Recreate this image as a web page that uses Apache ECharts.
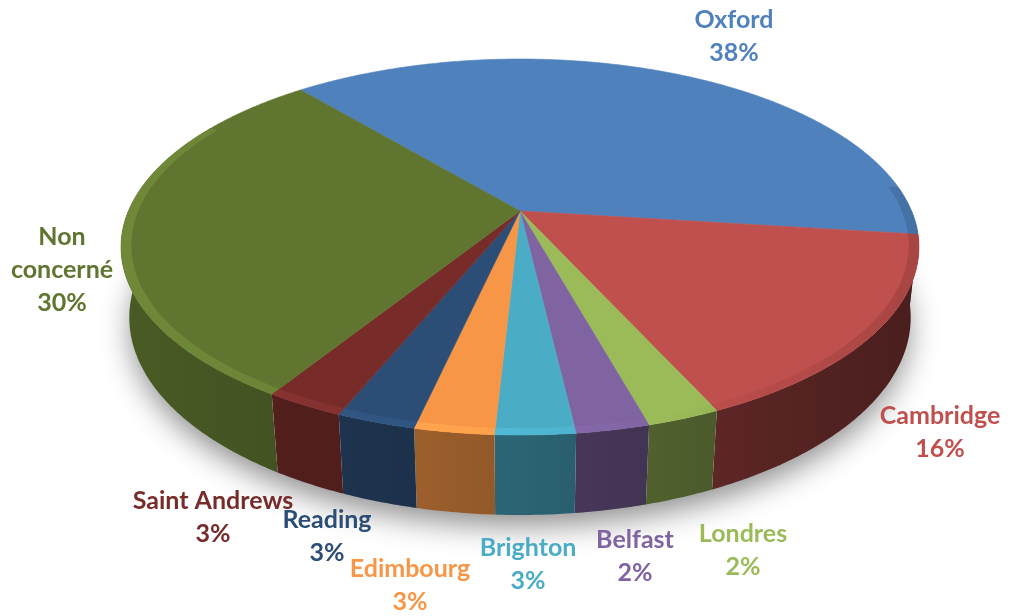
<!DOCTYPE html>
<html>
<head>
<meta charset="utf-8">
<script src="https://cdn.jsdelivr.net/npm/echarts@6/dist/echarts.min.js"></script>
<style>
  html, body { margin: 0; padding: 0; background: #ffffff; }
  #chart { width: 1017px; height: 616px; }
</style>
</head>
<body>
<div id="chart"></div>
<script>
// Répartition des étudiants par destination (en %)
const categories = ['Oxford', 'Cambridge', 'Londres', 'Belfast', 'Brighton', 'Edimbourg', 'Reading', 'Saint Andrews', 'Non concerné'];
const shares = [38.1, 16.2, 2.48, 2.48, 2.69, 2.69, 2.69, 2.69, 29.98];
const labelNames = ['Oxford', 'Cambridge', 'Londres', 'Belfast', 'Brighton', 'Edimbourg', 'Reading', 'Saint Andrews', 'Non\nconcerné'];

// Styling (Office palette) and label layout
const sliceColors = ['#4F81BD', '#C0504D', '#9BBB59', '#8064A2', '#4BACC6', '#F79646', '#2C4D75', '#772C2A', '#5F7530'];
const labelSpots = [[734, 29], [940, 425], [743, 543], [635, 549], [528, 557], [410, 578], [327, 529], [213, 510], [62, 246]];
const LABEL_FONT = 'bold 25px Lato, "Open Sans", sans-serif';
const LINE_GAP = 33;

// Perspective camera looking down on a unit disc
const CAM = { x0: 520, y0: 211, s: 1813, dist: 4.63, sinE: 0.4625, cosE: 0.887, depth: 0.204, startDeg: 130 };
const DEG = Math.PI / 180;

function project(u, v, h) {
  const zc = CAM.dist - h * CAM.sinE - v * CAM.cosE;
  return [CAM.x0 + CAM.s * u / zc, CAM.y0 + CAM.s * (v * CAM.sinE - h * CAM.cosE) / zc];
}
function rim(theta, r, h) {
  return project(r * Math.cos(theta), -r * Math.sin(theta), h);
}
function shade(hex, f) {
  const n = parseInt(hex.slice(1), 16);
  const c = [(n >> 16) & 255, (n >> 8) & 255, n & 255].map(x => Math.max(0, Math.min(255, Math.round(x * f))));
  return 'rgb(' + c.join(',') + ')';
}
// light comes from the left: side walls darken towards the right
function wallFactor(c) { return 0.58 - 0.2 * c; }
function bevelFactor(c) { return c < 0 ? 1.07 - 0.1 * c : 1.07 - 0.2 * c; }

// band between two rim paths, shaded horizontally
function band(t0, t1, pathA, pathB, color, factorFn, z2) {
  const n = Math.max(2, Math.ceil(Math.abs(t0 - t1) / (0.5 * DEG)));
  const a = [], b = [];
  for (let k = 0; k <= n; k++) {
    const t = t0 - (t0 - t1) * k / n;
    a.push(pathA(t));
    b.push(pathB(t));
  }
  const pts = a.concat(b.reverse());
  let xL = Infinity, xR = -Infinity;
  pts.forEach(p => { xL = Math.min(xL, p[0]); xR = Math.max(xR, p[0]); });
  const stops = [];
  for (let k = 0; k <= 12; k++) {
    const x = xL + (xR - xL) * k / 12;
    const c = Math.max(-1, Math.min(1, (x - CAM.x0) / 399));
    stops.push({ offset: k / 12, color: shade(color, factorFn(c)) });
  }
  const fill = { type: 'linear', x: xL, y: 0, x2: xR + 0.001, y2: 0, global: true, colorStops: stops };
  return { type: 'polygon', z2: z2, shape: { points: pts }, style: { fill: fill, stroke: null } };
}

const total = shares.reduce((a, b) => a + b, 0);
const cumulative = shares.map((_, i) => shares.slice(0, i).reduce((a, b) => a + b, 0));

function renderItem(params, api) {
  const i = params.dataIndex;
  const value = api.value(0);
  const color = sliceColors[i];
  const a0 = (CAM.startDeg - 360 * cumulative[i] / total) * DEG;
  const a1 = a0 - 360 * value / total * DEG;
  const children = [];
  const H = -CAM.depth;

  if (i === 0) {
    const base = [];
    for (let k = 0; k <= 180; k++) base.push(rim(k * 2 * DEG, 0.995, H));
    children.push({
      type: 'polygon', shape: { points: base }, z2: 1,
      style: { fill: '#ffffff', shadowBlur: 30, shadowColor: 'rgba(0,0,0,0.45)', shadowOffsetY: 12 }
    });
  }

  // front side wall
  const w0 = Math.min(a0, 0), w1 = Math.max(a1, -Math.PI);
  if (w0 > w1) {
    children.push(band(w0, w1, t => rim(t, 1, 0), t => rim(t, 1, H), color, wallFactor, 10));
  }

  // top face
  const steps = Math.max(2, Math.ceil((a0 - a1) / (0.5 * DEG)));
  const topPts = [project(0, 0, 0)];
  for (let k = 0; k <= steps; k++) topPts.push(rim(a0 - (a0 - a1) * k / steps, 1, 0));
  children.push({
    type: 'polygon', z2: 500, shape: { points: topPts },
    style: { fill: color, stroke: color, lineWidth: 0.6 }
  });

  // rounded rim on the top face
  const b0 = Math.min(a0, 8 * DEG), b1 = Math.max(a1, -210 * DEG);
  if (b0 > b1) {
    children.push(band(b0, b1, t => rim(t, 1, 0), t => rim(t, 0.975, 0), color, bevelFactor, 510));
  }

  const lines = labelNames[i].split('\n').concat([Math.round(value / total * 100) + '%']);
  const spot = labelSpots[i];
  lines.forEach((txt, j) => {
    children.push({
      type: 'text', z2: 600,
      x: spot[0], y: spot[1] - 9 + j * LINE_GAP,
      style: { text: txt, fill: color, font: LABEL_FONT, align: 'center', verticalAlign: 'middle', textAlign: 'center', textVerticalAlign: 'middle' }
    });
  });

  return { type: 'group', children: children };
}

const chart = echarts.init(document.getElementById('chart'), null, { renderer: 'canvas' });
chart.setOption({
  backgroundColor: '#ffffff',
  animation: false,
  series: [{
    type: 'custom',
    coordinateSystem: 'none',
    silent: true,
    renderItem: renderItem,
    data: shares.map((v, i) => ({ name: categories[i], value: v }))
  }]
});
</script>
</body>
</html>
